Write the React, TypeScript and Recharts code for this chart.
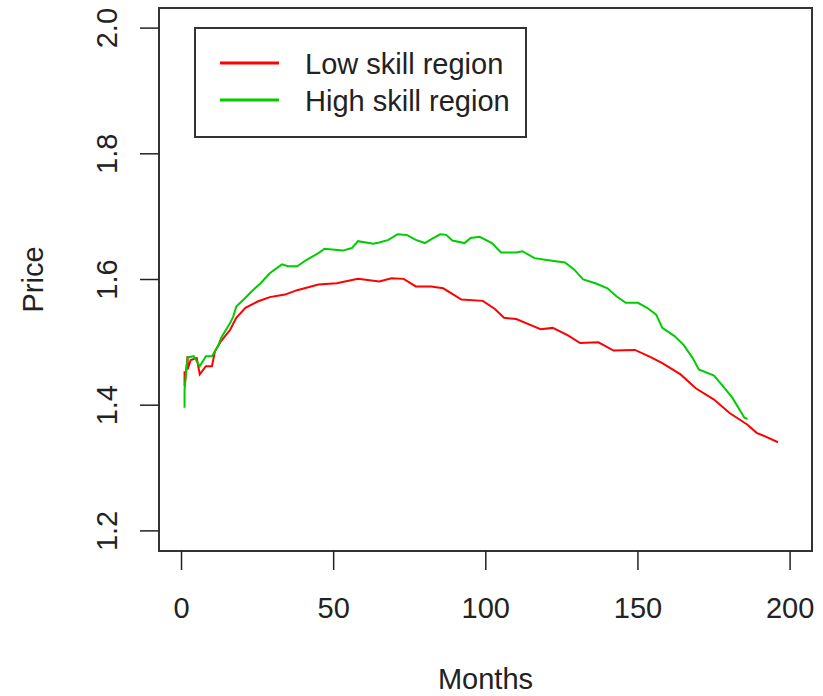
import React from "react"
import { LineChart, Line, XAxis, YAxis, ReferenceArea } from "recharts"

// values
const lowMonths = [1, 1, 2, 2, 3, 5, 6, 8, 10, 11, 13, 16, 18, 21, 25, 29, 34, 38, 45, 51, 58, 65, 69, 73, 77, 82, 86, 92, 99, 103, 106, 110, 115, 118, 122, 127, 131, 137, 142, 149, 154, 158, 164, 169, 175, 180, 186, 189, 192, 196]
const lowPrices = [1.454, 1.43, 1.478, 1.457, 1.472, 1.475, 1.449, 1.462, 1.462, 1.486, 1.502, 1.52, 1.539, 1.555, 1.565, 1.572, 1.576, 1.583, 1.592, 1.594, 1.601, 1.597, 1.602, 1.601, 1.589, 1.589, 1.586, 1.568, 1.566, 1.553, 1.539, 1.537, 1.527, 1.521, 1.523, 1.511, 1.499, 1.5, 1.487, 1.488, 1.477, 1.467, 1.449, 1.427, 1.409, 1.388, 1.369, 1.356, 1.35, 1.341]

const highMonths = [1, 1, 2, 4, 6, 8, 10, 12, 13, 16, 17, 18, 21, 23, 26, 29, 33, 35, 38, 41, 45, 47, 53, 56, 58, 63, 65, 68, 71, 74, 77, 80, 82, 85, 87, 89, 93, 95, 98, 102, 105, 110, 112, 116, 120, 126, 129, 132, 136, 140, 143, 146, 150, 153, 156, 158, 162, 165, 168, 170, 175, 178, 181, 185, 186]
const highPrices = [1.396, 1.425, 1.476, 1.478, 1.462, 1.478, 1.478, 1.494, 1.507, 1.531, 1.541, 1.557, 1.571, 1.581, 1.594, 1.61, 1.624, 1.621, 1.621, 1.631, 1.642, 1.649, 1.646, 1.65, 1.661, 1.657, 1.659, 1.663, 1.672, 1.671, 1.663, 1.658, 1.664, 1.672, 1.671, 1.662, 1.658, 1.666, 1.668, 1.658, 1.643, 1.643, 1.645, 1.634, 1.631, 1.627, 1.616, 1.6, 1.594, 1.586, 1.573, 1.563, 1.563, 1.555, 1.544, 1.523, 1.51, 1.496, 1.475, 1.457, 1.447, 1.43, 1.412, 1.38, 1.378]

const seriesNames = ["Low skill region", "High skill region"]
const xTicks = [0, 50, 100, 150, 200]
const yTicks = [1.2, 1.4, 1.6, 1.8, 2.0]

const xDomain = [-7.4, 207.2]
const yDomain = [1.168, 2.032]
const colors = ["#ff0000", "#00cd00"]
const font = "'Liberation Sans', Arial, sans-serif"
const ink = "#222"

const lowData = lowMonths.map((m, i) => ({ month: m, price: lowPrices[i] }))
const highData = highMonths.map((m, i) => ({ month: m, price: highPrices[i] }))

const XTick = ({ x, y, payload }: any) => (
  <text x={x} y={y + 48} textAnchor="middle" fontFamily={font} fontSize={29} fill={ink}>
    {payload.value}
  </text>
)

const YTick = ({ x, y, payload }: any) => (
  <text
    x={x - 23}
    y={y}
    transform={`rotate(-90, ${x - 23}, ${y})`}
    textAnchor="middle"
    fontFamily={font}
    fontSize={29}
    fill={ink}
  >
    {payload.value.toFixed(1)}
  </text>
)

const Legend = () => (
  <svg width={340} height={120} style={{ position: "absolute", left: 190, top: 23 }}>
    <rect x={5} y={5} width={331} height={109} fill="#fff" stroke="#333" strokeWidth={2} />
    {seriesNames.map((name, i) => (
      <g key={name}>
        <line x1={30} x2={89} y1={40 + i * 37} y2={40 + i * 37} stroke={colors[i]} strokeWidth={3} />
        <text x={115} y={51 + i * 37} fontFamily={font} fontSize={29} fill={ink}>
          {name}
        </text>
      </g>
    ))}
  </svg>
)

export default function App() {
  return (
    <div style={{ position: "absolute", left: 0, top: 0, width: 823, height: 696, background: "#fff" }}>
      <LineChart width={823} height={696} margin={{ top: 8, right: 11, left: 0, bottom: 0 }}>
        <XAxis
          dataKey="month"
          type="number"
          domain={xDomain}
          ticks={xTicks}
          allowDataOverflow
          height={145}
          axisLine={false}
          tickSize={19}
          tickMargin={0}
          tickLine={{ stroke: ink, strokeWidth: 1.5 }}
          tick={<XTick />}
          label={{
            content: ({ viewBox }: any) => (
              <text
                x={viewBox.x + viewBox.width / 2}
                y={viewBox.y + 138}
                textAnchor="middle"
                fontFamily={font}
                fontSize={29}
                fill={ink}
              >
                Months
              </text>
            ),
          }}
        />
        <YAxis
          type="number"
          domain={yDomain}
          ticks={yTicks}
          allowDataOverflow
          width={159}
          axisLine={false}
          tickSize={19}
          tickMargin={0}
          tickLine={{ stroke: ink, strokeWidth: 1.5 }}
          tick={<YTick />}
          label={{
            content: ({ viewBox }: any) => {
              const cy = viewBox.y + viewBox.height / 2
              return (
                <text
                  x={43}
                  y={cy}
                  transform={`rotate(-90, 43, ${cy})`}
                  textAnchor="middle"
                  fontFamily={font}
                  fontSize={29}
                  fill={ink}
                >
                  Price
                </text>
              )
            },
          }}
        />
        <Line
          data={lowData}
          dataKey="price"
          name={seriesNames[0]}
          type="linear"
          stroke={colors[0]}
          strokeWidth={2}
          dot={false}
          isAnimationActive={false}
        />
        <Line
          data={highData}
          dataKey="price"
          name={seriesNames[1]}
          type="linear"
          stroke={colors[1]}
          strokeWidth={2}
          dot={false}
          isAnimationActive={false}
        />
        <ReferenceArea
          x1={xDomain[0]}
          x2={xDomain[1]}
          y1={yDomain[0]}
          y2={yDomain[1]}
          fill="none"
          stroke="#333"
          strokeWidth={2}
          ifOverflow="visible"
        />
      </LineChart>
      <Legend />
    </div>
  )
}
